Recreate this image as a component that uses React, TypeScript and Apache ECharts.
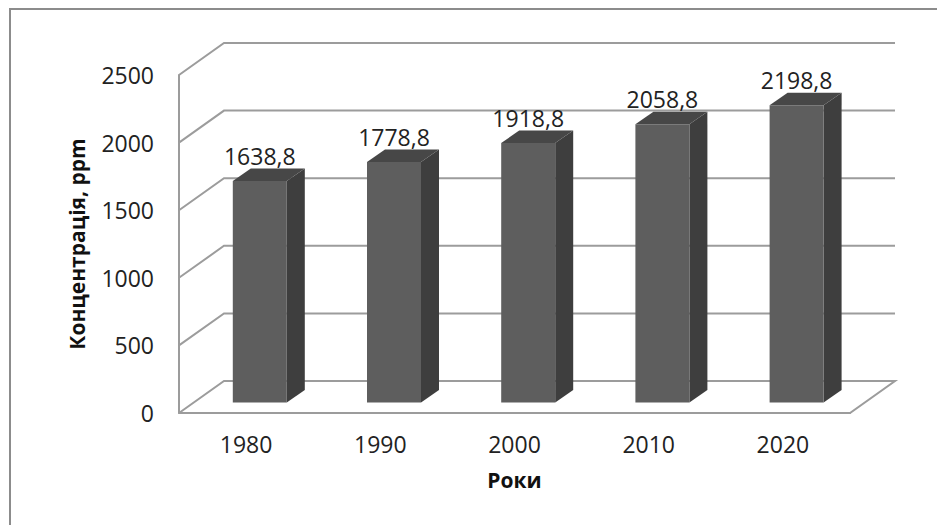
import React, { useEffect, useRef } from "react";
import * as echarts from "echarts";

const years = ["1980", "1990", "2000", "2010", "2020"];
const concentrations = [1638.8, 1778.8, 1918.8, 2058.8, 2198.8];
const wallTicks = [0, 500, 1000, 1500, 2000, 2500];

const FONT = "'Open Sans'";
const LINE = "#9c9c9c";
const DEPTH_X = 45;
const DEPTH_Y = 32;

const formatValue = (v: number) => v.toFixed(1).replace(".", ",");

// Back wall and floor of the pseudo-3D plot box.
function renderWall(params: any, api: any) {
  const { x, width } = params.coordSys;
  const value = api.value(0);
  const y = api.coord([0, value])[1];
  const x1 = x + width;
  const points =
    value === 0
      ? [[x, y], [x + DEPTH_X, y - DEPTH_Y], [x1 + DEPTH_X, y - DEPTH_Y], [x1, y], [x, y]]
      : [[x, y], [x + DEPTH_X, y - DEPTH_Y], [x1 + DEPTH_X, y - DEPTH_Y]];
  return {
    type: "polyline",
    shape: { points },
    style: { fill: "none", stroke: LINE, lineWidth: 2 },
  };
}

// A column with front, side and top faces plus its value label.
function renderColumn(_params: any, api: any) {
  const index = api.value(0);
  const value = api.value(1);
  const cx = api.coord([index, 0])[0] + 13.7;
  const halfW = 27;
  const lift = 10.5;
  const top = api.coord([index, value])[1] - lift;
  const base = api.coord([index, 0])[1] - lift;
  const l = cx - halfW;
  const r = cx + halfW;
  const dx = 18;
  const dy = 12.5;
  return {
    type: "group",
    children: [
      {
        type: "polygon",
        shape: { points: [[r, top], [r + dx, top - dy], [r + dx, base - dy], [r, base]] },
        style: { fill: "#3e3e3e" },
      },
      {
        type: "polygon",
        shape: { points: [[l, top], [l + dx, top - dy], [r + dx, top - dy], [r, top]] },
        style: { fill: "#474747" },
      },
      {
        type: "rect",
        shape: { x: l, y: top, width: r - l, height: base - top },
        style: { fill: "#5e5e5e" },
      },
      {
        type: "text",
        x: cx,
        y: top - 25,
        style: {
          text: formatValue(value),
          font: `23px ${FONT}`,
          fill: "#222222",
          align: "center",
          verticalAlign: "middle",
        },
      },
    ],
  };
}

export default function App() {
  const ref = useRef<HTMLDivElement>(null);

  useEffect(() => {
    const chart = echarts.init(ref.current!, undefined, { renderer: "svg" });
    chart.setOption({
      animation: false,
      backgroundColor: "#ffffff",
      grid: { left: 179, right: 87, top: 75, bottom: 112 },
      xAxis: {
        type: "category",
        data: years,
        name: "Роки",
        nameLocation: "middle",
        nameGap: 56,
        nameTextStyle: { fontFamily: FONT, fontSize: 21, fontWeight: "bold", color: "#111111" },
        axisTick: { show: false },
        axisLine: { lineStyle: { color: LINE, width: 2 } },
        axisLabel: { fontFamily: FONT, fontSize: 23, color: "#222222", margin: 19 },
        splitLine: { show: false },
      },
      yAxis: {
        type: "value",
        min: 0,
        max: 2500,
        interval: 500,
        name: "Концентрація, ppm",
        nameLocation: "middle",
        nameGap: 92,
        nameTextStyle: { fontFamily: FONT, fontSize: 21, fontWeight: "bold", color: "#111111" },
        axisTick: { show: false },
        axisLine: { show: true, lineStyle: { color: LINE, width: 2 } },
        axisLabel: {
          fontFamily: FONT,
          fontSize: 23,
          color: "#222222",
          margin: 25,
          formatter: (v: number) => String(v),
        },
        splitLine: { show: false },
      },
      graphic: [
        {
          type: "polyline",
          shape: { points: [[10, 525], [10, 9], [937, 9]] },
          style: { fill: "none", stroke: "#8c8c8c", lineWidth: 2 },
        },
      ],
      series: [
        {
          type: "custom",
          clip: false,
          silent: true,
          z: 1,
          data: wallTicks.map((t) => [t]),
          encode: { y: 0 },
          renderItem: renderWall,
        },
        {
          type: "custom",
          clip: false,
          silent: true,
          z: 2,
          data: concentrations.map((v, i) => [i, v]),
          encode: { x: 0, y: 1 },
          renderItem: renderColumn,
        },
      ],
    });
    return () => chart.dispose();
  }, []);

  return <div ref={ref} style={{ position: "fixed", left: 0, top: 0, width: 937, height: 525 }} />;
}
